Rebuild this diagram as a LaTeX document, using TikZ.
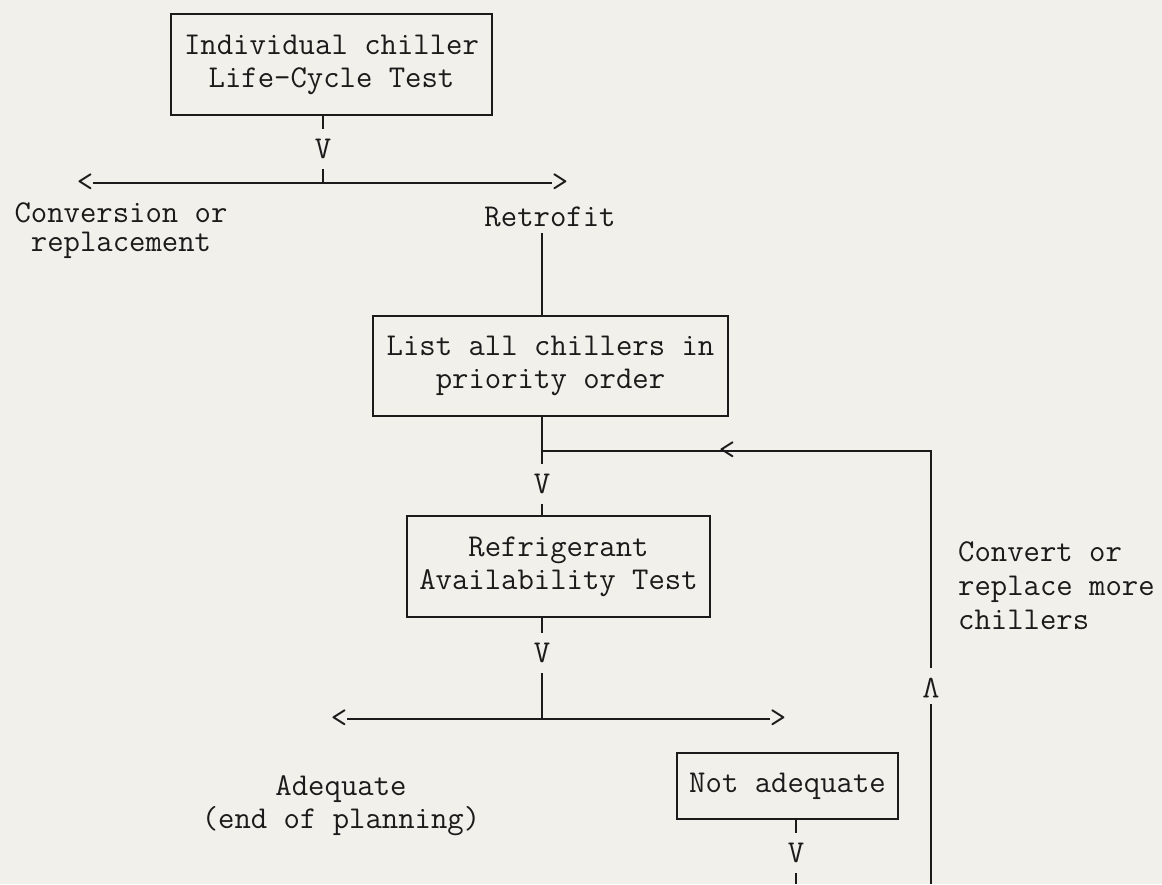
\documentclass[tikz,border=0pt]{standalone}
\usepackage{fontspec}
\newfontfamily\tw{Latin Modern Mono}
\definecolor{paper}{RGB}{242,240,234}
\definecolor{ink}{RGB}{28,26,26}
\begin{document}
\begin{tikzpicture}[x=1pt,y=-1pt,
  txt/.style={font=\tw\fontsize{31.8}{33}\selectfont, text=ink, inner sep=0pt, align=center},
  box/.style={txt, draw=ink, line width=1.8pt},
  glyph/.style={font=\tw\fontsize{31.8}{33}\selectfont, text=ink, inner sep=0pt},
  vglyph/.style={glyph, outer sep=10.5pt},
  conn/.style={draw=ink, line width=1.5pt}]
\fill[paper] (0,0) rectangle (1162,884);
\useasboundingbox (0,0) rectangle (1162,884);

% x positions of the vertical connectors
\coordinate (x1) at (323,0);
\coordinate (x2) at (542,0);
\coordinate (x4) at (796,0);

% top box and first split
\node[box, minimum width=321pt, minimum height=101pt] (b1) at (331.5,64.5) {Individual chiller\\Life-Cycle Test};
\node[vglyph] (v1) at (323,149) {V};
\coordinate (j1) at (323,183);
\node[glyph] (l1) at (85,183) {<};
\node[glyph] (r1) at (560,183) {>};
\draw[conn] (b1.south -| x1) -- (v1.north);
\draw[conn] (v1.south) -- (j1);
\draw[conn] (l1.east) -- (r1.west);

\node[txt, font=\tw\fontsize{31.8}{29}\selectfont] (conv) at (121,231) {Conversion or\\replacement};
\node[txt] (retro) at (550,217) {Retrofit};

% priority list
\node[box, minimum width=355pt, minimum height=100pt] (b2) at (550.5,366) {List all chillers in\\priority order};
\draw[conn] ([yshift=-6pt]retro.south -| x2) -- (b2.north -| x2);

\coordinate (j2) at (542,451);
\coordinate (c2) at (931,451);
\node[vglyph] (v2) at (542,484) {V};
\draw[conn] (b2.south -| x2) -- (v2.north);

% refrigerant test
\node[box, minimum width=303pt, minimum height=101pt] (b3) at (558.5,566.5) {Refrigerant\\Availability Test};
\draw[conn] (v2.south) -- (b3.north -| x2);

\node[vglyph] (v3) at (542,653) {V};
\coordinate (j3) at (542,719);
\draw[conn] (b3.south -| x2) -- (v3.north);
\draw[conn] (v3.south) -- (j3);
\node[glyph] (l3) at (339,719) {<};
\node[glyph] (r3) at (778,719) {>};
\draw[conn] (l3.east) -- (r3.west);

\node[txt] (adeq) at (341,806) {Adequate\\(end of planning)};

% not adequate
\node[box, minimum width=221pt, minimum height=66pt] (b4) at (787.5,786) {Not adequate};
\node[vglyph] (v4) at (796,853) {V};
\coordinate (e4) at (796,884);
\draw[conn] (b4.south -| x4) -- (v4.north);
\draw[conn] (v4.south) -- (e4);

% loop back
\coordinate (u1) at (931,668);
\coordinate (u2) at (931,704);
\coordinate (e5) at (931,884);
\node[glyph, rotate=180] (up) at (931,688) {V};
\draw[conn] (e5) -- (u2);
\draw[conn] (u1) -- (c2) -- (j2);
\node[glyph] (lp) at (727,451) {<};

\node[txt, font=\tw\fontsize{31.8}{34}\selectfont, align=left, anchor=west] (more) at (958,586) {Convert or\\replace more\\chillers};
\end{tikzpicture}
\end{document}
